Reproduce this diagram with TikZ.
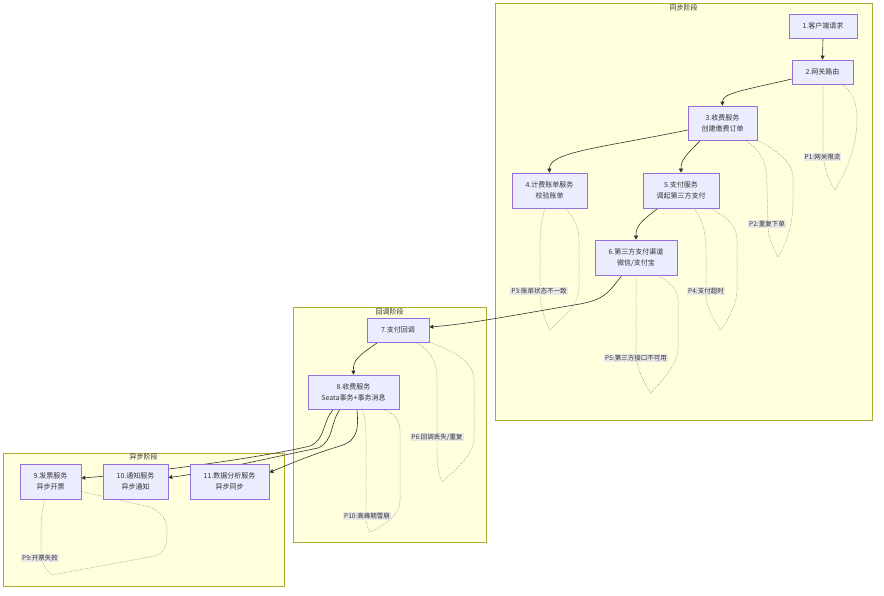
\documentclass[tikz,border=0pt]{standalone}
\usepackage{fontspec}
\setmainfont{Noto Sans CJK SC}
\usepackage{tikz}
\usetikzlibrary{arrows.meta,calc,backgrounds}
\definecolor{cInk}{HTML}{333333}
\definecolor{cZone}{HTML}{FFFFDE}
\definecolor{cZoneLine}{HTML}{AAAA33}
\definecolor{cNode}{HTML}{ECECFF}
\definecolor{cNodeLine}{HTML}{9370DB}
\definecolor{cLoop}{HTML}{9A9A9A}
\definecolor{cTag}{HTML}{E8E8E8}
\tikzset{
  zone/.style={draw=cZoneLine,fill=cZone,line width=0.6pt},
  ztitle/.style={font=\fontsize{7}{8}\selectfont,text=cInk,inner sep=0pt},
  svc/.style={draw=cNodeLine,fill=cNode,line width=0.6pt,align=center,text=cInk,font=\fontsize{7}{11}\selectfont,inner sep=0pt,minimum width=#1,minimum height=35pt},
  svc/.default=62pt,
  svcs/.style={svc=#1,minimum height=24pt},
  arr/.style={-{Triangle[length=4pt,width=4pt]},line width=0.6pt,color=cInk},
  lp/.style={draw=cLoop,line width=0.5pt,dash pattern=on 1.2pt off 1.2pt},
  lbl/.style={fill=cTag,text=cInk,font=\fontsize{6.5}{7}\selectfont,inner sep=1pt},
}

\begin{document}
\begin{tikzpicture}[x=1pt,y=-1pt]
  \useasboundingbox (0,0) rectangle (884,596);
  \begin{scope}[on background layer]
    \fill[white] (0,0) rectangle (884,596);
    \draw[zone] (495,3) rectangle (872,420);
    \draw[zone] (293,307) rectangle (486,542);
    \draw[zone] (3,453) rectangle (284,586);
    \node[ztitle] (tSync) at (683.5,8)  {同步阶段};
    \node[ztitle] (tCb)   at (389.5,312) {回调阶段};
    \node[ztitle] (tAsync) at (143.5,457) {异步阶段};
  \end{scope}

  % sync
  \node[svcs=68pt] (n1) at (823,26)      {1.客户端请求};
  \node[svcs=61pt] (n2) at (822.5,72)    {2.网关路由};
  \node[svc=69pt,minimum height=34pt] (n3) at (722.5,123) {3.收费服务\\创建缴费订单};
  \node[svc=75pt]  (n4) at (549.5,190.5) {4.计费账单服务\\校验账单};
  \node[svc=76pt]  (n5) at (681,190.5)   {5.支付服务\\调起第三方支付};
  \node[svc=82pt]  (n6) at (636,257.5)   {6.第三方支付渠道\\微信/支付宝};
  % callback
  \node[svcs=62pt] (n7) at (398,330)     {7.支付回调};
  \node[svc=91pt,minimum height=34pt] (n8) at (353.5,392) {8.收费服务\\Seata事务+事务消息};
  % async
  \node[svc=61pt]  (n9)  at (50.5,481.5)  {9.发票服务\\异步开票};
  \node[svc=65pt]  (n10) at (135.5,481.5) {10.通知服务\\异步通知};
  \node[svc=79pt]  (n11) at (229.5,481.5) {11.数据分析服务\\异步同步};

  \begin{scope}[on background layer]
    \draw[arr] (n1.south) -- (n2.north);
    \draw[arr] ($(n2.west)+(0,7)$) .. controls (745,90) and (722,93) .. (n3.north);
    \draw[arr] ($(n3.west)+(0,7)$) .. controls (600,148) and (549,152) .. (n4.north);
    \draw[arr] ($(n3.south)+(-22,0)$) .. controls (685,156) and (681,160) .. (n5.north);
    \draw[arr] ($(n5.south)+(-23,0)$) .. controls (640,222) and (636,226) .. (n6.north);
    \draw[arr] ($(n6.south)+(-14,0)$) .. controls (610,290) and (607,299) .. (580,304)
      .. controls (520,314) and (470,324) .. ($(n7.east)+(0,-3)$);
    \draw[arr] ($(n7.south)+(-20,0)$) .. controls (358,356) and (353,360) .. (n8.north);
    \draw[arr] ($(n8.south)+(-20,0)$) .. controls (322,422) and (326,439) .. (310,446)
      .. controls (260,458) and (140,474) .. ($(n9.east)+(0,-3.5)$);
    \draw[arr] ($(n8.south)+(-13.5,0)$) .. controls (330,423) and (334,441) .. (318,448)
      .. controls (260,460) and (200,474) .. ($(n10.east)+(0,-4)$);
    \draw[arr] ($(n8.south)+(3.5,0)$) .. controls (358,425) and (360,440) .. (340,446)
      .. controls (310,455) and (285,466) .. ($(n11.east)+(0,-9)$);

    % failure loops
    \coordinate (a1) at (835,190);
    \draw[lp] ($(n2.south)+(0.5,0)$) -- (823,150) .. controls (823,168) and (830,182) .. (a1)
      .. controls (845,172) and (857,150) .. (857,118) .. controls (857,100) and (850,90) .. ($(n2.south)+(19.5,0)$);
    \node[lbl] (p1) at (822.5,157) {P1:网关限流};
    \coordinate (a2) at (778,257);
    \draw[lp] ($(n3.south)+(22.5,0)$) .. controls (760,150) and (767,160) .. (767,185) -- (768,228)
      .. controls (769,240) and (774,250) .. (a2) .. controls (785,245) and (793,228) .. (793,200)
      -- (793,178) .. controls (793,160) and (772,148) .. ($(n3.south)+(35,0)$);
    \node[lbl] (p2) at (767,224) {P2:重复下单};
    \coordinate (a3) at (550,330);
    \draw[lp] ($(n4.south)+(-4.5,0)$) .. controls (540,225) and (540,235) .. (540,250) -- (540,295)
      .. controls (541,310) and (546,322) .. (a3) .. controls (562,318) and (579,305) .. (579,288)
      -- (579,240) .. controls (579,225) and (572,215) .. ($(n4.south)+(15.5,0)$);
    \node[lbl] (p3) at (539,291) {P3:账单状态不一致};
    \coordinate (a4) at (721,330);
    \draw[lp] ($(n5.south)+(13,0)$) .. controls (702,220) and (706,230) .. (706,250) -- (706,295)
      .. controls (707,310) and (715,322) .. (a4) .. controls (728,320) and (737,305) .. (737,290)
      -- (737,240) .. controls (737,225) and (725,215) .. ($(n5.south)+(29,0)$);
    \node[lbl] (p4) at (706,291) {P4:支付超时};
    \coordinate (a5) at (651,393);
    \draw[lp] (n6.south) -- (636,355) .. controls (637,370) and (645,385) .. (a5)
      .. controls (662,380) and (678,365) .. (678,348) -- (678,300) .. controls (678,288) and (668,282) .. ($(n6.south)+(22,0)$);
    \node[lbl] (p5) at (636,358) {P5:第三方接口不可用};
    \coordinate (a6) at (442,482);
    \draw[lp] ($(n7.south)+(17,0)$) .. controls (430,350) and (437,360) .. (437,380) -- (437,460)
      .. controls (438,470) and (440,478) .. (a6) .. controls (455,470) and (474,455) .. (474,438)
      -- (474,380) .. controls (474,360) and (450,350) .. ($(n7.south)+(32,0)$);
    \node[lbl] (p6) at (437,437) {P6:回调丢失/重复};
    \coordinate (a10) at (370,532);
    \draw[lp] ($(n8.south)+(8.5,0)$) .. controls (366,420) and (366,430) .. (366,440) -- (366,515)
      .. controls (366,525) and (368,530) .. (a10) .. controls (385,525) and (400,515) .. (400,500)
      -- (400,430) .. controls (400,418) and (392,412) .. ($(n8.south)+(28.5,0)$);
    \node[lbl] (p10) at (367,516) {P10:高峰期雪崩};
    \coordinate (a9) at (52,575);
    \draw[lp] ($(n9.south)+(-5.5,0)$) .. controls (42,510) and (41,520) .. (41,530) -- (41,555)
      .. controls (42,565) and (48,572) .. (a9) -- (155,556) .. controls (166,552) and (167,545) .. (167,530)
      .. controls (167,518) and (160,512) .. (150,507) -- ($(n9.east)+(0,10)$);
    \node[lbl] (p9) at (40,558) {P9:开票失败};
  \end{scope}
\end{tikzpicture}
\end{document}
